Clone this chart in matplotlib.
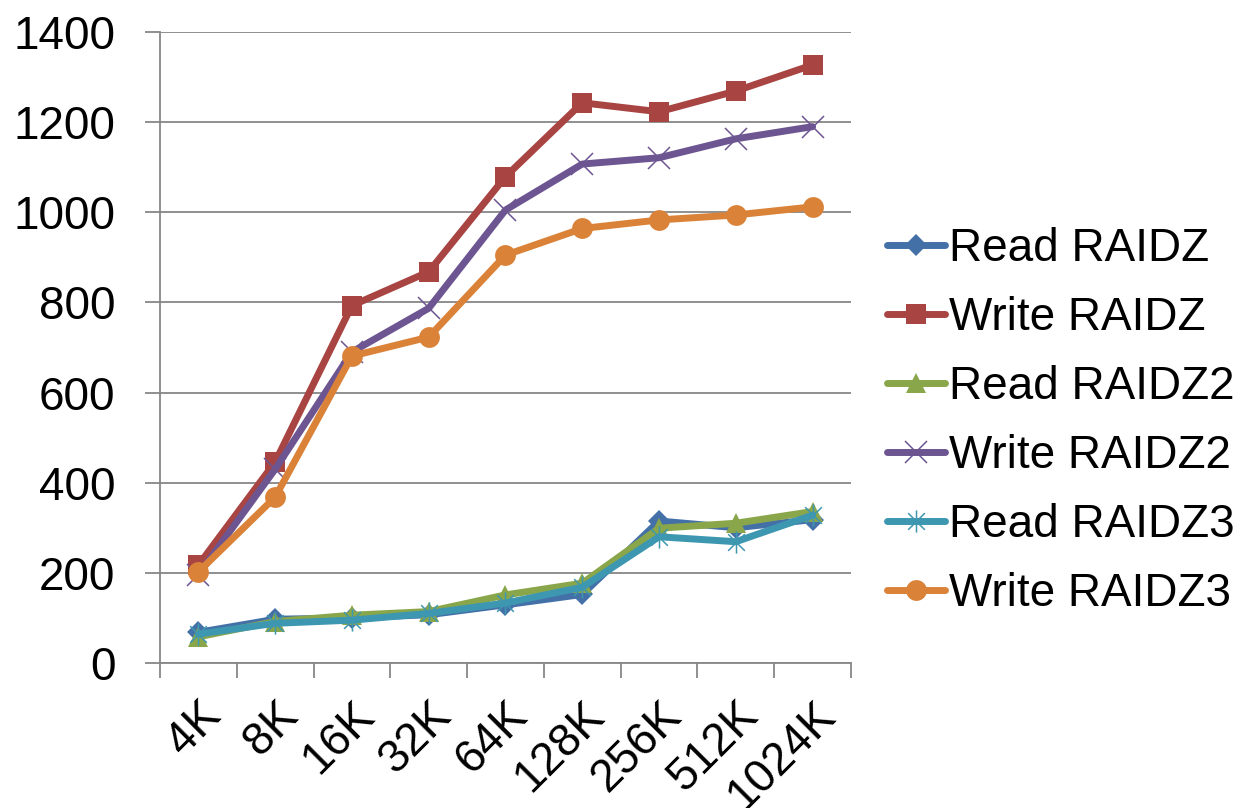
import numpy as np
import matplotlib
matplotlib.use("Agg")
import matplotlib.pyplot as plt
from matplotlib.path import Path
from matplotlib.transforms import ScaledTranslation

# Block sizes and throughput values
categories = ["4K", "8K", "16K", "32K", "64K", "128K", "256K", "512K", "1024K"]

read_raidz = [68, 97, 100, 107, 129, 152, 315, 300, 318]
write_raidz = [217, 446, 793, 868, 1079, 1243, 1223, 1269, 1327]
read_raidz2 = [58, 92, 106, 114, 151, 177, 299, 310, 336]
write_raidz2 = [196, 430, 690, 787, 1005, 1107, 1121, 1163, 1190]
read_raidz3 = [64, 88, 95, 110, 133, 168, 280, 269, 328]
write_raidz3 = [202, 368, 681, 723, 905, 964, 983, 994, 1012]

series_names = ["Read RAIDZ", "Write RAIDZ", "Read RAIDZ2",
                "Write RAIDZ2", "Read RAIDZ3", "Write RAIDZ3"]
y_ticks = [0, 200, 400, 600, 800, 1000, 1200, 1400]

plt.rcParams["font.family"] = ["Liberation Sans", "DejaVu Sans"]
FS = 33

# asterisk marker: vertical stroke plus an X
star = Path(
    [(0, -1), (0, 1), (-0.75, -0.75), (0.75, 0.75), (-0.75, 0.75), (0.75, -0.75)],
    [Path.MOVETO, Path.LINETO, Path.MOVETO, Path.LINETO, Path.MOVETO, Path.LINETO],
)

styles = [
    dict(color="#4470A8", marker="D", ms=11, mew=0),
    dict(color="#A84543", marker="s", ms=15, mew=0),
    dict(color="#8AA64A", marker="^", ms=15, mew=0),
    dict(color="#6C5591", marker="x", ms=16, mew=1.1),
    dict(color="#3D97B0", marker=star, ms=16, mew=1.1, mfc="none"),
    dict(color="#DB8239", marker="o", ms=15, mew=0),
]
data = [read_raidz, write_raidz, read_raidz2, write_raidz2, read_raidz3, write_raidz3]

fig = plt.figure(figsize=(12.52, 8.08), dpi=100)
ax = fig.add_axes([0.1278, 0.1795, 0.5519, 0.7809])

x = np.arange(len(categories))
for name, vals, st in zip(series_names, data, styles):
    ax.plot(x, vals, label=name, linewidth=5, solid_capstyle="round",
            solid_joinstyle="round", **st)

grid_col = "#878787"
ax.set_ylim(0, 1400)
ax.set_xlim(-0.5, len(categories) - 0.5)
ax.set_yticks(y_ticks)
ax.set_yticklabels([str(v) for v in y_ticks], fontsize=FS)
ax.yaxis.grid(True, color=grid_col, linewidth=1.3)
ax.set_axisbelow(True)

# tick marks sit between categories, labels under each category
ax.set_xticks(np.arange(-0.5, len(categories)), minor=False)
ax.set_xticklabels([])
ax.set_xticks(x, minor=True)
ax.set_xticklabels(categories, minor=True, fontsize=FS, rotation=45,
                   ha="right", va="top", rotation_mode="anchor")
shift = ScaledTranslation(-12 / 100, 0, fig.dpi_scale_trans)
for lbl in ax.get_xticklabels(minor=True):
    lbl.set_transform(lbl.get_transform() + shift)
ax.tick_params(axis="x", which="minor", length=0, pad=22)
ax.tick_params(axis="x", which="major", length=11, width=1.3, color=grid_col,
               direction="out")
ax.tick_params(axis="y", length=11, width=1.3, color=grid_col, direction="out",
               pad=21)

for side in ["top", "right"]:
    ax.spines[side].set_visible(False)
for side in ["left", "bottom"]:
    ax.spines[side].set_color(grid_col)
    ax.spines[side].set_linewidth(1.3)

leg = ax.legend(loc="center left", bbox_to_anchor=(1.052, 0.382), frameon=False,
                fontsize=FS, handlelength=1.27, handletextpad=0.08,
                labelspacing=0.545, borderaxespad=0, borderpad=0)

fig.savefig("out.png", dpi=100, facecolor="white")
